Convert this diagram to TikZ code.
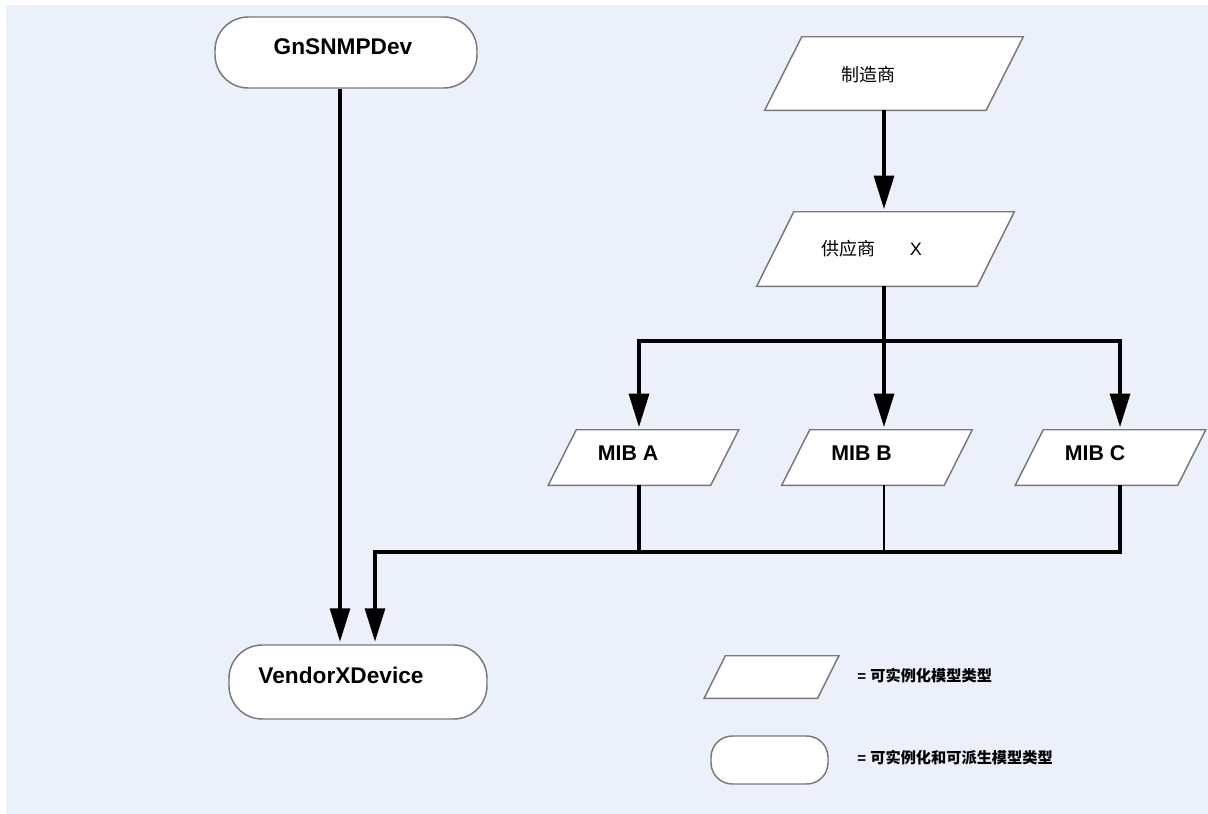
\documentclass[tikz,border=0pt]{standalone}
\usepackage{fontspec}
\setmainfont{Liberation Sans}
\newfontfamily\cjk{Noto Sans CJK SC}
\usetikzlibrary{arrows.meta,positioning}
\definecolor{canvasBg}{RGB}{235, 240, 250}
\definecolor{shapeEdge}{RGB}{120, 120, 120}

\begin{document}
\begin{tikzpicture}[
    x=0.75pt, y=-0.75pt,
    >={Triangle[length=25pt,width=15pt]},
    % Derivable model type (stadium)
    devBox/.style={
        rectangle,
        rounded corners=#1,
        draw=shapeEdge,
        fill=white,
        line width=1.1pt,
        inner sep=0pt
    },
    devBox/.default=25pt,
    % Instantiable model type (parallelogram), #1 = half the slant
    instBox/.style={
        rectangle,
        inner sep=0pt,
        append after command={
            \pgfextra{
                \draw[draw=shapeEdge, fill=white, line width=1.1pt]
                    ([xshift=#1]\tikzlastnode.north west) -- ([xshift=#1]\tikzlastnode.north east)
                    -- ([xshift=-#1]\tikzlastnode.south east) -- ([xshift=-#1]\tikzlastnode.south west)
                    -- cycle;
            }
        }
    },
    devText/.style={font=\fontsize{17}{20}\selectfont\bfseries},
    mibText/.style={font=\fontsize{16}{19}\selectfont\bfseries, xshift=-11.5pt, yshift=3.4pt},
    cjkText/.style={font=\fontsize{13.5}{16}\selectfont},
    keyText/.style={font=\fontsize{11.4}{14}\selectfont\bfseries, anchor=west, inner sep=0pt},
    flowLine/.style={line width=2.3pt},
    flowArrow/.style={flowLine, ->, shorten >=2pt}
]

    % Canvas
    \useasboundingbox (0,0) rectangle (1208,814);
    \fill[canvasBg] (6,5) rectangle (1208,814);

    % Model nodes
    \node[devBox, minimum width=196.5pt, minimum height=53.25pt,
        label={[devText, xshift=-2.25pt, yshift=4pt]center:GnSNMPDev}] (gnsnmp) at (346,52.5) {};
    \node[devBox, minimum width=193.5pt, minimum height=55.5pt,
        label={[devText, xshift=-12.75pt, yshift=5.25pt]center:VendorXDevice}] (vendor) at (358,682) {};

    \node[instBox=13.9pt, minimum width=165.75pt, minimum height=54.75pt,
        label={[cjkText, xshift=-19.5pt, yshift=-1pt]center:{\cjk 制造商}}] (maker) at (894,73.5) {};
    \node[instBox=13.9pt, minimum width=165pt, minimum height=55.5pt,
        label={[cjkText, xshift=-10.5pt]center:{\cjk 供应商}\hspace{26pt}X}] (vendorX) at (885.5,249) {};

    \node[instBox=10.5pt, minimum width=121.5pt, minimum height=41.25pt,
        label={[mibText]center:MIB A}] (mibA) at (643.5,457.5) {};
    \node[instBox=10.5pt, minimum width=121.5pt, minimum height=41.25pt,
        label={[mibText]center:MIB B}] (mibB) at (877,457.5) {};
    \node[instBox=10.5pt, minimum width=121.5pt, minimum height=41.25pt,
        label={[mibText]center:MIB C}] (mibC) at (1110.5,457.5) {};

    % Junction points
    \coordinate (trunk) at (884,341);
    \coordinate (colA) at (639,341);
    \coordinate (colC) at (1120,341);
    \coordinate (bus) at (375,552);
    \coordinate (gnLine) at (340,552);

    % Connectors
    \draw[flowArrow] (gnsnmp.south -| gnLine) -- (vendor.north -| gnLine);
    \draw[flowArrow] (maker.south -| trunk) -- (vendorX.north -| trunk);
    \draw[flowLine] (vendorX.south -| trunk) -- (trunk);
    \draw[flowArrow] (trunk) -- (mibB.north -| trunk);
    \draw[flowArrow] (trunk) -| (mibA.north -| colA);
    \draw[flowArrow] (trunk) -| (mibC.north -| colC);
    \draw[flowLine] (mibA.south -| colA) -- (colA |- bus);
    \draw[flowLine, line width=1.9pt] (mibB.south -| trunk) -- (trunk |- bus);
    \draw[flowArrow] (mibC.south -| colC) |- (bus) -- (vendor.north -| bus);

    % Legend
    \node[instBox=8pt, minimum width=84.75pt, minimum height=31.5pt] (keyInst) at (771.5,677) {};
    \node[devBox=16pt, minimum width=87.75pt, minimum height=36pt] (keyDev) at (769.5,760) {};
    \node[keyText] (keyInstTxt) at (857,676) {= {\cjk 可实例化模型类型}};
    \node[keyText] (keyDevTxt) at (857,758) {= {\cjk 可实例化和可派生模型类型}};

\end{tikzpicture}
\end{document}
